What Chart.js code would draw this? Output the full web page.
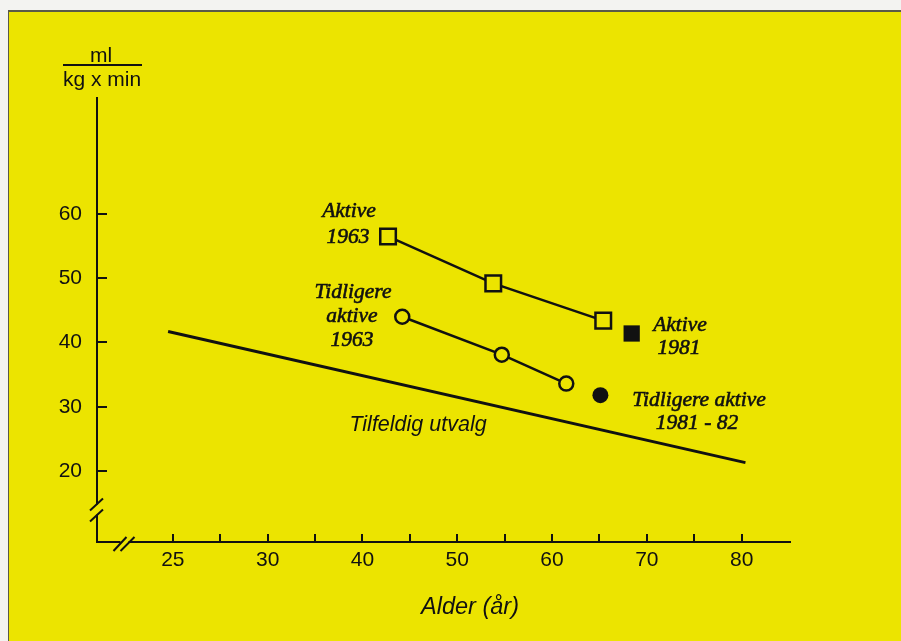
<!DOCTYPE html>
<html>
<head>
<meta charset="utf-8">
<script src="https://cdn.jsdelivr.net/npm/chart.js@4.4.1/dist/chart.umd.min.js"></script>
<style>
  html, body { margin: 0; padding: 0; background: #f3f3f1; }
  #frame { position: absolute; left: 8px; top: 10px; width: 893px; height: 631px; background: #ece400;
           border-left: 1px solid #5a5a48; border-top: 2px solid #5a5a48; box-sizing: border-box; }
  #chart { position: absolute; left: 0; top: 0; }
</style>
</head>
<body>
<div id="frame"></div>
<canvas id="chart" width="901" height="641"></canvas>
<script>
// axis break: scale value 20 carries the label "25"
const xTickValues = [20, 25, 30, 35, 40, 45, 50, 55, 60, 65, 70, 75, 80];
const xTickLabels = ['25', '', '30', '', '40', '', '50', '', '60', '', '70', '', '80'];
const yTickValues = [20, 30, 40, 50, 60];

const aktive1963Alder = [42.7, 53.8, 65.4];
const aktive1963Vo2 = [56.5, 49.2, 43.4];
const tidligere1963Alder = [44.2, 54.7, 61.5];
const tidligere1963Vo2 = [44.0, 38.1, 33.6];
const aktive1981Alder = [68.4];
const aktive1981Vo2 = [41.4];
const tidligere1981Alder = [65.1];
const tidligere1981Vo2 = [31.8];
const utvalgAlder = [19.5, 80.4];
const utvalgVo2 = [41.7, 21.3];

const YELLOW = '#ece400';
const INK = '#111';
const SANS = '"Liberation Sans", Arial, sans-serif';
const SERIF = '"Liberation Serif", "Times New Roman", serif';

function toPoints(xs, ys) {
    return xs.map((x, i) => ({ x: x, y: ys[i] }));
}

const labelPlugin = {
    id: 'labels',
    afterDraw(chart) {
        const ctx = chart.ctx;
        const xs = chart.scales.x;
        const ys = chart.scales.y;
        const area = chart.chartArea;
        ctx.save();
        ctx.strokeStyle = INK;
        ctx.fillStyle = INK;
        ctx.lineWidth = 2;

        // inward tick marks
        xs.ticks.forEach(t => {
            const px = Math.round(xs.getPixelForValue(t.value));
            ctx.beginPath();
            ctx.moveTo(px, area.bottom);
            ctx.lineTo(px, area.bottom - 8);
            ctx.stroke();
        });
        ys.ticks.forEach(t => {
            const py = Math.round(ys.getPixelForValue(t.value));
            ctx.beginPath();
            ctx.moveTo(area.left, py);
            ctx.lineTo(area.left + 10, py);
            ctx.stroke();
        });

        // axis breaks
        const by = ys.getPixelForValue(14);
        ctx.fillStyle = YELLOW;
        ctx.fillRect(area.left - 3, by - 5, 6, 10);
        ctx.beginPath();
        ctx.moveTo(area.left - 7, by + 1); ctx.lineTo(area.left + 6, by - 11);
        ctx.moveTo(area.left - 7, by + 12); ctx.lineTo(area.left + 6, by);
        ctx.stroke();
        const bx = xs.getPixelForValue(14.9);
        ctx.fillRect(bx - 4, area.bottom - 3, 8, 6);
        ctx.beginPath();
        ctx.moveTo(bx - 11, area.bottom + 9); ctx.lineTo(bx + 2, area.bottom - 5);
        ctx.moveTo(bx - 4, area.bottom + 9); ctx.lineTo(bx + 10, area.bottom - 5);
        ctx.stroke();

        // y unit
        ctx.fillStyle = INK;
        ctx.textAlign = 'center';
        ctx.textBaseline = 'middle';
        ctx.font = '21px ' + SANS;
        ctx.fillText('ml', 101, 56);
        ctx.fillText('kg x min', 102, 80);
        ctx.beginPath();
        ctx.moveTo(63, 65); ctx.lineTo(142, 65);
        ctx.stroke();

        // series labels (scan ink is a little heavier than the plain face)
        ctx.font = 'italic 21.5px ' + SERIF;
        ctx.lineWidth = 0.6;
        [['Aktive', 349, 211], ['1963', 348, 237],
         ['Tidligere', 353, 292], ['aktive', 352, 316], ['1963', 352, 340],
         ['Aktive', 680, 325], ['1981', 679, 348],
         ['Tidligere aktive', 699, 400], ['1981 - 82', 697, 423]
        ].forEach(([t, x, y]) => { ctx.fillText(t, x, y); ctx.strokeText(t, x, y); });

        ctx.font = 'italic 21.5px ' + SANS;
        ctx.fillText('Tilfeldig utvalg', 418, 425);
        ctx.font = 'italic 23.5px ' + SANS;
        ctx.fillText('Alder (år)', 470, 607);
        ctx.restore();
    }
};

const ctx = document.getElementById('chart').getContext('2d');
new Chart(ctx, {
    type: 'scatter',
    data: {
        datasets: [
            {
                label: 'Tilfeldig utvalg',
                data: toPoints(utvalgAlder, utvalgVo2),
                showLine: true,
                borderColor: INK,
                borderWidth: 3,
                pointRadius: 0
            },
            {
                label: 'Aktive 1963',
                data: toPoints(aktive1963Alder, aktive1963Vo2),
                showLine: true,
                borderColor: INK,
                borderWidth: 2.5,
                pointStyle: 'rect',
                pointRadius: 11,
                pointBorderWidth: 2.5,
                pointBackgroundColor: YELLOW,
                pointBorderColor: INK
            },
            {
                label: 'Tidligere aktive 1963',
                data: toPoints(tidligere1963Alder, tidligere1963Vo2),
                showLine: true,
                borderColor: INK,
                borderWidth: 2.5,
                pointStyle: 'circle',
                pointRadius: 7,
                pointBorderWidth: 2.5,
                pointBackgroundColor: YELLOW,
                pointBorderColor: INK
            },
            {
                label: 'Aktive 1981',
                data: toPoints(aktive1981Alder, aktive1981Vo2),
                pointStyle: 'rect',
                pointRadius: 11.5,
                pointBorderWidth: 0,
                pointBackgroundColor: INK
            },
            {
                label: 'Tidligere aktive 1981 - 82',
                data: toPoints(tidligere1981Alder, tidligere1981Vo2),
                pointStyle: 'circle',
                pointRadius: 8,
                pointBorderWidth: 0,
                pointBackgroundColor: INK
            }
        ]
    },
    options: {
        responsive: false,
        animation: false,
        layout: { padding: { top: 98, right: 111, bottom: 0, left: 0 } },
        plugins: { legend: { display: false }, tooltip: { enabled: false } },
        scales: {
            x: {
                type: 'linear',
                min: 12,
                max: 85.1,
                afterBuildTicks: s => { s.ticks = xTickValues.map(v => ({ value: v })); },
                afterFit: s => { s.height = 99; },
                grid: { display: false, drawTicks: false, tickLength: 0 },
                border: { display: true, color: INK, width: 2 },
                ticks: {
                    autoSkip: false,
                    maxRotation: 0,
                    padding: 6,
                    color: INK,
                    font: { family: SANS, size: 21 },
                    callback: (v, i) => xTickLabels[i]
                }
            },
            y: {
                type: 'linear',
                min: 8.95,
                max: 78.05,
                afterBuildTicks: s => { s.ticks = yTickValues.map(v => ({ value: v })); },
                afterFit: s => { s.width = 97; },
                grid: { display: false, drawTicks: false, tickLength: 0 },
                border: { display: true, color: INK, width: 2 },
                ticks: {
                    padding: 15,
                    color: INK,
                    font: { family: SANS, size: 21 }
                }
            }
        }
    },
    plugins: [labelPlugin]
});
</script>
</body>
</html>
